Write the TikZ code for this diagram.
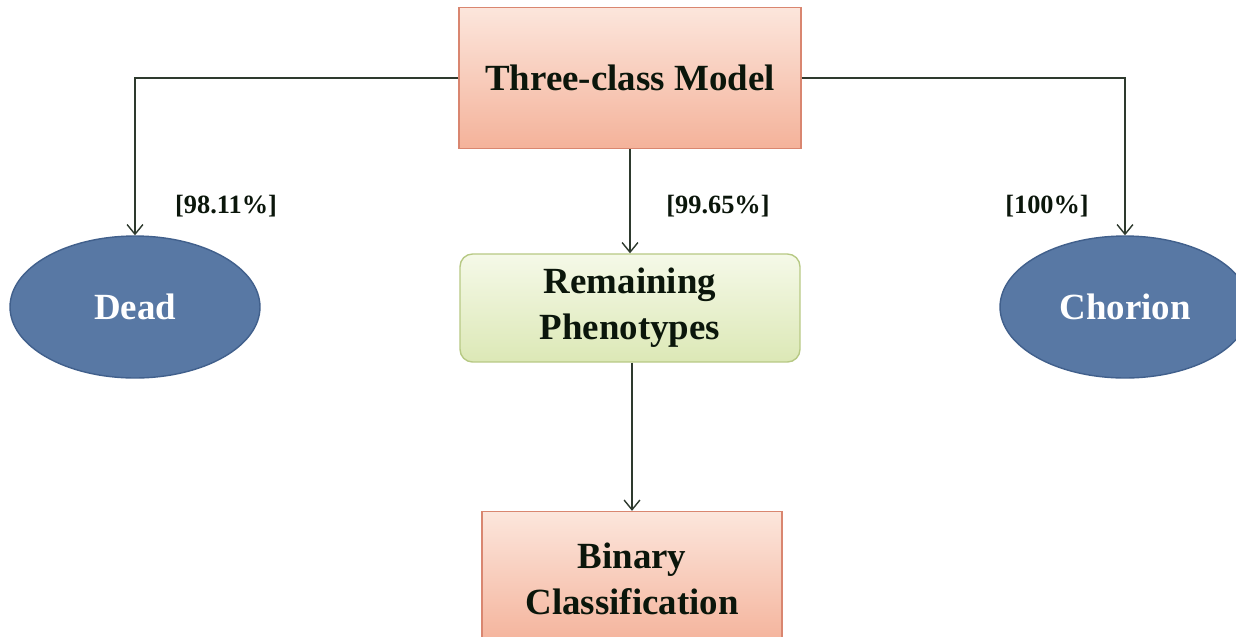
\documentclass[tikz,border=0pt]{standalone}
\usepackage{fontspec}
\setmainfont{Liberation Serif}
\usepackage{color}
\definecolor{pk}{HTML}{F4B29A}
\definecolor{pkl}{HTML}{FCE6DC}
\definecolor{pkd}{HTML}{D98670}
\definecolor{gr}{HTML}{DCE8B6}
\definecolor{grl}{HTML}{F5F9E8}
\definecolor{grd}{HTML}{B7C984}
\definecolor{bl}{HTML}{5878A4}
\definecolor{bld}{HTML}{41608C}
\definecolor{ln}{HTML}{2E3A2E}
\definecolor{tx}{HTML}{0B160B}
\usepackage{tikz}
\usetikzlibrary{positioning, shapes.geometric, arrows.meta}

\begin{document}
\begin{tikzpicture}[x=0.02cm, y=-0.02cm,
                    every node/.style = {text=tx, font=\fontsize{21}{26}\selectfont\bfseries, align=center},
                    box/.style = {draw=pkd, line width=0.8pt, top color=pkl, bottom color=pk},
                    rbox/.style = {draw=grd, line width=0.8pt, rounded corners=0.25cm, top color=grl, bottom color=gr},
                    oval/.style = {ellipse, draw=bld, line width=0.8pt, fill=bl, text=white,
                                   minimum width=5cm, minimum height=2.84cm, inner sep=0pt},
                    pct/.style = {font=\fontsize{15}{18}\selectfont\bfseries},
                    arr/.style = {draw=ln, line width=0.8pt, -{Straight Barb[length=5.5pt, width=9pt]}}]
            \useasboundingbox (0,0) rectangle (1236,636);
            \clip (0,0) rectangle (1236,636);
            \fill[white] (0,0) rectangle (1236,636);

            \node (m) [box, minimum width=6.84cm, minimum height=2.82cm] at (630,78) {Three-class Model};
            \node (r) [rbox, minimum width=6.8cm, minimum height=2.16cm] at (630,308) {Remaining\\Phenotypes};
            \node (b) [box, minimum width=6.0cm, minimum height=2.7cm] at (632,579) {Binary\\Classification};
            \node (d) [oval] at (135,307) {Dead};
            \node (c) [oval] at (1125,307) {Chorion};

            \draw [arr] (m.west) -| (d.north);
            \draw [arr] (m.east) -| (c.north);
            \draw [arr] (m.south) -- (r.north);
            \draw [arr] (r.south -| b.north) -- (b.north);

            \node (p1) [pct] at (226,206) {[98.11\%]};
            \node (p2) [pct] at (718,206) {[99.65\%]};
            \node (p3) [pct] at (1047,206) {[100\%]};
\end{tikzpicture}
\end{document}
